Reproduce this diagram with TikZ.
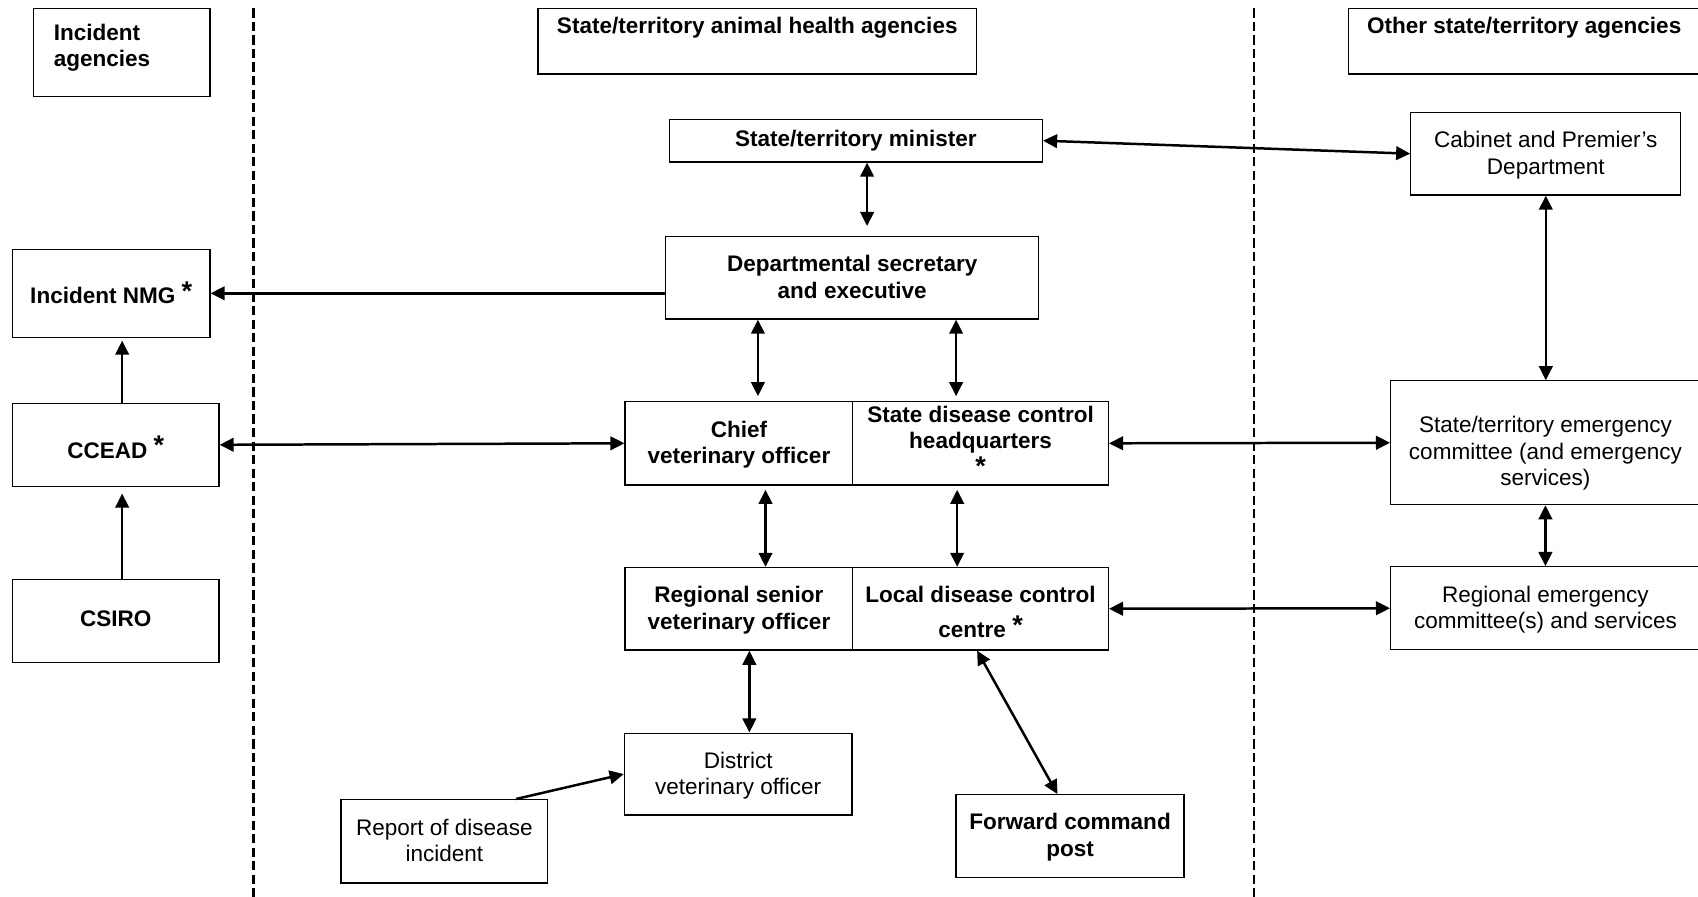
\documentclass[tikz,border=0pt]{standalone}
\usepackage{fontspec}
\setmainfont{Liberation Sans}
\usetikzlibrary{arrows.meta,calc}
\newcommand\diagfont{\fontsize{20.8pt}{24.5pt}\selectfont}
% line struts: every line gets the same height and depth, so text sits evenly in its box
\newcommand\sstrut{\rule[-4.8pt]{0pt}{19.7pt}}
\newcommand\fstrut{\rule[-4.8pt]{0pt}{23pt}}
\newcommand\hstrut[1]{\rule[-4.8pt]{0pt}{#1}}
\newcommand\starmark{{\fontsize{25pt}{25pt}\selectfont\raisebox{3pt}{*}}}
\begin{document}
\begin{tikzpicture}[x=1pt,y=-1pt,
  >={Triangle[length=13pt,width=12.5pt]},
  box/.style={draw=black, line width=1.15pt, inner sep=0pt, align=center, font=\diagfont},
  hbox/.style={box, font=\diagfont\bfseries},
  label/.style={inner sep=0pt, font=\diagfont\bfseries},
  link/.style={line width=2.3pt},
  divider/.style={line width=2.2pt, dash pattern=on 8.5pt off 4pt}]

\fill[white] (0,0) rectangle (1568,828);
\useasboundingbox (0,0) rectangle (1568,828);

% column dividers
\coordinate (d1top) at (234.2,7.7);
\coordinate (d1bot) at (234.2,830);
\coordinate (d2top) at (1157.7,7.7);
\coordinate (d2bot) at (1157.7,830);
\draw[divider] (d1top) -- (d1bot);
\draw[divider] (d2top) -- (d2bot);

% column headings
\node[box, minimum width=163.2pt, minimum height=81.6pt] (agencies) at (112.3,48.5) {};
\node[label, align=left, anchor=north west] (agencieslabel) at (49.5,21.7) {Incident\\agencies};
\node[box, minimum width=405pt, minimum height=60.6pt] (saha) at (699.3,38) {};
\node[label] (sahalabel) at (699.3,26.2) {\sstrut State/territory animal health agencies};
\node[box, minimum width=324.6pt, minimum height=60.6pt] (other) at (1407.7,38) {};
\node[label] (otherlabel) at (1407.5,26.2) {\sstrut Other state/territory agencies};

% incident agencies
\node[hbox, minimum width=182.4pt, minimum height=81.3pt] (nmg) at (102.7,270.85) {\hstrut{29pt}Incident NMG \starmark};
\node[hbox, minimum width=190.7pt, minimum height=76.9pt] (ccead) at (106.85,410.75) {\hstrut{34pt}CCEAD \starmark};
\node[hbox, minimum width=190.7pt, minimum height=76.9pt] (csiro) at (106.85,573.35) {\sstrut CSIRO};

% animal health agencies
\node[hbox, minimum width=344.6pt, minimum height=39.4pt] (minister) at (790.3,129.9) {\sstrut State/territory minister};
\node[hbox, minimum width=344.3pt, minimum height=76.1pt] (dept) at (786.95,256.55) {\fstrut Departmental secretary\\\sstrut and executive};
\node[hbox, minimum width=210.3pt, minimum height=77.1pt] (cvo) at (682.35,409.35) {\fstrut Chief\\\sstrut veterinary officer};
\node[hbox, minimum width=236pt, minimum height=77.1pt] (sdchq) at (905.5,409.35) {\sstrut State disease control\\\sstrut headquarters\\\sstrut{\fontsize{25pt}{25pt}\selectfont *}};
\node[hbox, minimum width=210.3pt, minimum height=76.3pt] (rsvo) at (682.35,562.15) {\fstrut Regional senior\\\sstrut veterinary officer};
\node[hbox, minimum width=236pt, minimum height=76.3pt] (ldcc) at (905.5,562.15) {\hstrut{30pt}Local disease control\\[6.7pt]\sstrut centre \starmark};
\node[box, minimum width=210.3pt, minimum height=75.6pt] (district) at (681.65,714.8) {\fstrut District\\\sstrut veterinary officer};
\node[box, minimum width=190.6pt, minimum height=76.9pt] (report) at (410.3,776.85) {\fstrut Report of disease\\\sstrut incident};
\node[hbox, minimum width=210.4pt, minimum height=76.1pt] (fcp) at (988.1,771.95) {\fstrut Forward command\\\sstrut post};

% other agencies
\node[box, minimum width=249.3pt, minimum height=76.4pt] (cabinet) at (1427.45,141.9) {\fstrut Cabinet and Premier’s\\\sstrut Department};
\node[box, minimum width=285.8pt, minimum height=114.3pt] (sec) at (1427.1,408.85) {\hstrut{39.6pt}State/territory emergency\\\sstrut committee (and emergency\\\sstrut services)};
\node[box, minimum width=285.8pt, minimum height=76.7pt] (rec) at (1427.1,561.65) {\fstrut Regional emergency\\\sstrut committee(s) and services};

% columns of the vertical links
\coordinate (xmin) at (800.7,0);
\coordinate (xcvo) at (699.9,0);
\coordinate (xhq) at (882.9,0);
\coordinate (xrsvo) at (706.9,0);
\coordinate (xldcc) at (883.9,0);
\coordinate (xdist) at (692,0);
\coordinate (xinc) at (112.8,0);

% links
\draw[link,->] (dept.west |- nmg.east) -- (nmg.east);
\draw[link,<->,shorten >=9.2pt] (minister.south -| xmin) -- (dept.north -| xmin);
\draw[link,<->] (minister.east) -- (cabinet.west);
\draw[link,<->] (cabinet.south) -- (cabinet.south |- sec.north);
\draw[link,<->] (sec.south) -- (sec.south |- rec.north);
\draw[link,<->,shorten >=4.4pt] (dept.south -| xcvo) -- (cvo.north -| xcvo);
\draw[link,<->,shorten >=4.4pt] (dept.south -| xhq) -- (sdchq.north -| xhq);
\draw[link,<->,shorten <=3.8pt] (cvo.south -| xrsvo) -- (rsvo.north -| xrsvo);
\draw[link,<->,shorten <=3.8pt] (sdchq.south -| xldcc) -- (ldcc.north -| xldcc);
\draw[link,<->] (rsvo.south -| xdist) -- (district.north -| xdist);
\draw[link,<->] ([xshift=-3.2pt]ldcc.south) -- ([xshift=-11.6pt]fcp.north);
\draw[link,->] ([xshift=66.2pt]report.north) -- (district.west);
\draw[link,<->] (ccead.east) -- (cvo.west);
\draw[link,<->] (sdchq.east) -- (sec.west);
\draw[link,<->] (ldcc.east) -- (rec.west);
\draw[link,->,shorten >=2.5pt] (ccead.north -| xinc) -- (nmg.south -| xinc);
\draw[link,->,shorten >=6pt] (csiro.north -| xinc) -- (ccead.south -| xinc);

\end{tikzpicture}
\end{document}
